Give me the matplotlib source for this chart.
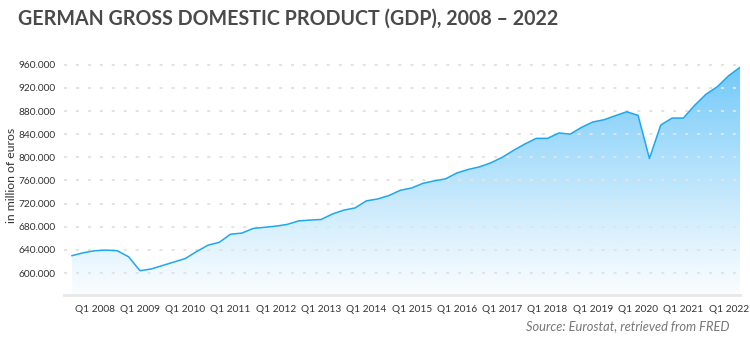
import numpy as np
import matplotlib
matplotlib.use("Agg")
import matplotlib.pyplot as plt
from matplotlib.patches import Polygon
from matplotlib.ticker import FuncFormatter

# Quarterly German GDP, Q3 2007 - Q2 2022, million euros
quarters = [f"Q{q} {y}" for y in range(2007, 2023) for q in range(1, 5)][2:62]
gdp = [
    630000, 635000, 638500, 639600, 638500, 628000,
    604000, 607000, 613000, 619000,
    625000, 637000, 648000, 653000,
    667000, 669000, 677000, 679000,
    681000, 684000, 690000, 691500,
    692500, 702000, 708600, 712500,
    724700, 728000, 734000, 743000,
    747000, 755000, 759300, 762800,
    773000, 779000, 783500, 790500,
    800000, 812000, 823000, 832700,
    832700, 842000, 840000, 851700,
    861000, 865000, 872000, 878700,
    872400, 798000, 855700, 867800,
    867800, 890000, 909000, 922000,
    941000, 955500,
]
tick_labels = [f"Q1 {y}" for y in range(2008, 2023)]
y_ticks = list(range(600000, 960001, 40000))

TITLE = "GERMAN GROSS DOMESTIC PRODUCT (GDP), 2008 \u2013 2022"
Y_LABEL = "in million of euros"
SOURCE = "Source: Eurostat, retrieved from FRED"

plt.rcParams["font.family"] = ["Lato", "DejaVu Sans"]
plt.rcParams["lines.scale_dashes"] = False

W, H = 750, 341
fig = plt.figure(figsize=(W / 100, H / 100), dpi=100)
fig.patch.set_facecolor("white")

# axes box in pixels: left 64, right 740, top 58, bottom 295
ax = fig.add_axes([64 / W, (H - 295) / H, (740 - 64) / W, (295 - 58) / H])

x = np.arange(len(gdp))
y = np.array(gdp, dtype=float)
ymin, ymax = 562000, 971600
xmin, xmax = -0.707, x[-1]

# vertical gradient fill under the line
n = 256
frac = np.linspace(0, 1, n)[:, None]
base = np.array([104, 197, 249]) / 255.0
alpha = 0.03 + 0.9 * frac ** 1.1
rgba = np.zeros((n, 1, 4))
rgba[..., :3] = base
rgba[..., 3] = alpha
img = ax.imshow(rgba, extent=[xmin, xmax, ymin, y.max()], origin="lower",
                aspect="auto", zorder=1, interpolation="bilinear")
verts = [(x[0], ymin)] + list(zip(x, y)) + [(x[-1], ymin)]
clip = Polygon(verts, closed=True, facecolor="none", edgecolor="none")
ax.add_patch(clip)
img.set_clip_path(clip)

ax.plot(x, y, color="#1ea7f2", lw=1.1, zorder=3, solid_joinstyle="round")

ax.set_xlim(xmin, xmax)
ax.set_ylim(ymin, ymax)

ax.set_yticks(y_ticks)
ax.yaxis.set_major_formatter(FuncFormatter(lambda v, p: f"{v:,.0f}".replace(",", ".")))
tick_pos = [quarters.index(t) for t in tick_labels]
ax.set_xticks(tick_pos)
ax.set_xticklabels(tick_labels)

ax.tick_params(axis="both", length=0, labelsize=7.3, labelcolor="#333333")
ax.tick_params(axis="y", pad=6)
ax.tick_params(axis="x", pad=7)

ax.grid(axis="y", color="#e3e3e3", lw=1.4, linestyle=(0, (2.2, 6.4)), zorder=0)
ax.grid(axis="x", visible=False)
for side in ("top", "right", "left"):
    ax.spines[side].set_visible(False)
ax.spines["bottom"].set_color("#e8e8e8")
ax.spines["bottom"].set_linewidth(2.0)
ax.set_facecolor("none")

fig.text(18 / W, 1 - 19 / H, TITLE, fontsize=14.1, fontweight="bold",
         color="#4a4a4a", ha="left", va="center")
fig.text(12 / W, 1 - 175 / H, Y_LABEL, fontsize=8.8, color="#333333",
         rotation=90, ha="center", va="center")
fig.text(730 / W, 1 - 326 / H, SOURCE, fontsize=9.3, style="italic",
         color="#777777", ha="right", va="center")

fig.savefig("out.png", dpi=100, facecolor="white")
